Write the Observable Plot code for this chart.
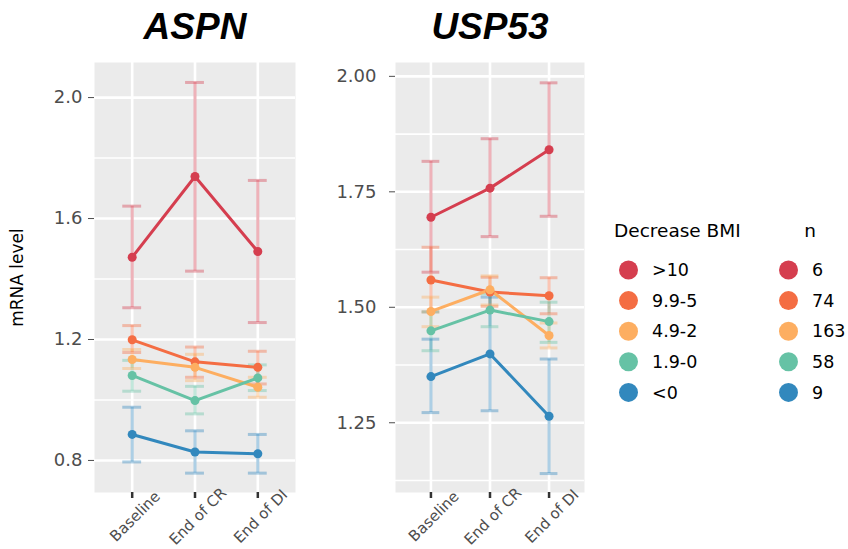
<!DOCTYPE html>
<html>
<head>
<meta charset="utf-8">
<script src="https://cdn.jsdelivr.net/npm/d3@7"></script>
<script src="https://cdn.jsdelivr.net/npm/@observablehq/plot@0.6"></script>
<style>
  html, body { margin: 0; padding: 0; background: white; }
  #wrap { position: relative; width: 848px; height: 549px; overflow: hidden; font-family: "DejaVu Sans", sans-serif; }
  #wrap > div, #wrap > svg { position: absolute; top: 0; }
</style>
</head>
<body>
<div id="wrap"></div>
<script>
// ---------- data ----------
const cats = ["Baseline", "End of CR", "End of DI"];
const groups = [">10", "9.9-5", "4.9-2", "1.9-0", "<0"];
const nCounts = ["6", "74", "163", "58", "9"];
const colors = ["#d53e4f", "#f46d43", "#fdae61", "#66c2a5", "#3288bd"];

// ASPN: mean, lower, upper per group (Baseline, End of CR, End of DI)
const aspnMean = [[1.472, 1.739, 1.491], [1.199, 1.126, 1.108], [1.134, 1.108, 1.042], [1.081, 0.998, 1.073], [0.886, 0.828, 0.822]];
const aspnLo   = [[1.305, 1.426, 1.256], [1.157, 1.075, 1.053], [1.104, 1.064, 1.009], [1.029, 0.954, 1.031], [0.795, 0.758, 0.758]];
const aspnHi   = [[1.641, 2.050, 1.726], [1.246, 1.175, 1.161], [1.167, 1.151, 1.075], [1.131, 1.045, 1.116], [0.976, 0.898, 0.886]];
const aspnTicks = [0.8, 1.2, 1.6, 2.0];
const aspnMinor = [1.0, 1.4, 1.8];

// USP53
const uspMean = [[1.695, 1.758, 1.841], [1.559, 1.533, 1.525], [1.491, 1.538, 1.439], [1.449, 1.494, 1.469], [1.350, 1.399, 1.264]];
const uspLo   = [[1.576, 1.653, 1.697], [1.490, 1.502, 1.486], [1.458, 1.505, 1.412], [1.406, 1.458, 1.424], [1.272, 1.276, 1.140]];
const uspHi   = [[1.816, 1.865, 1.986], [1.630, 1.565, 1.564], [1.522, 1.568, 1.466], [1.490, 1.529, 1.511], [1.431, 1.522, 1.388]];
const uspTicks = [1.25, 1.50, 1.75, 2.00];
const uspMinor = [1.125, 1.375, 1.625, 1.875];

function rowsOf(mean, lo, hi) {
  const rows = [];
  groups.forEach((g, gi) => cats.forEach((c, ci) => rows.push({g, ci, mean: mean[gi][ci], lo: lo[gi][ci], hi: hi[gi][ci]})));
  return rows;
}

function panel({rows, yDomain, yTicks, yMinor, fmt, title, width, ml, mr, ylabel, labelGap}) {
  const marks = [
    Plot.frame({fill: "#EBEBEB", stroke: null}),
    Plot.ruleY(yMinor, {stroke: "white", strokeWidth: 1.6}),
    Plot.ruleY(yTicks, {stroke: "white", strokeWidth: 2.6}),
    Plot.ruleX([0, 1, 2], {stroke: "white", strokeWidth: 2.6}),
    Plot.ruleX(rows, {x: "ci", y1: "lo", y2: "hi", stroke: "g", strokeOpacity: 0.4, strokeWidth: 3}),
    Plot.ruleY(rows, {y: "lo", x1: d => d.ci - 0.15, x2: d => d.ci + 0.15, stroke: "g", strokeOpacity: 0.4, strokeWidth: 3}),
    Plot.ruleY(rows, {y: "hi", x1: d => d.ci - 0.15, x2: d => d.ci + 0.15, stroke: "g", strokeOpacity: 0.4, strokeWidth: 3}),
    Plot.line(rows, {x: "ci", y: "mean", z: "g", stroke: "g", strokeWidth: 3}),
    Plot.dot(rows, {x: "ci", y: "mean", fill: "g", r: 4.5}),
    Plot.axisY({ticks: yTicks, tickSize: 6, tickFormat: () => "", color: "#4d4d4d", label: null}),
    Plot.text(yTicks, {y: d => d, text: d => fmt(d), frameAnchor: "left", dx: -labelGap, textAnchor: "end", lineAnchor: "middle", fontSize: 18, fill: "#4d4d4d"}),
    Plot.axisX({ticks: [0, 1, 2], tickSize: 6, tickFormat: () => "", strokeWidth: 2.5, color: "#333", label: null}),
    Plot.text(cats, {x: (d, i) => i, text: d => d, frameAnchor: "bottom", rotate: -45, dx: 3, dy: 24, fontSize: 15, fill: "#4d4d4d", textAnchor: "middle", lineAnchor: "middle"}),
    Plot.text([title], {text: d => d, frameAnchor: "top", dy: -35, fontSize: 37, fontWeight: "bold", fontStyle: "italic", fontFamily: "Liberation Sans", fill: "black", textAnchor: "middle", lineAnchor: "middle"})
  ];
  if (ylabel) marks.push(Plot.text([ylabel], {text: d => d, frameAnchor: "left", dx: -77, rotate: -90, fontSize: 17, fill: "black", textAnchor: "middle", lineAnchor: "middle"}));
  return Plot.plot({
    width, height: 549,
    marginLeft: ml, marginRight: mr, marginTop: 62, marginBottom: 57,
    x: {domain: [-0.6, 2.6], axis: null},
    y: {domain: yDomain, axis: null},
    color: {domain: groups, range: colors},
    style: {fontFamily: "DejaVu Sans", background: "transparent", overflow: "visible"},
    marks
  });
}

const wrap = document.getElementById("wrap");

const p1 = panel({rows: rowsOf(aspnMean, aspnLo, aspnHi), yDomain: [0.694, 2.116], yTicks: aspnTicks, yMinor: aspnMinor,
  fmt: d3.format(".1f"), title: "ASPN", width: 310, ml: 94, mr: 15, ylabel: "mRNA level", labelGap: 12});
p1.style.position = "absolute"; p1.style.left = "0px"; p1.style.top = "0px";
wrap.appendChild(p1);

const p2 = panel({rows: rowsOf(uspMean, uspLo, uspHi), yDomain: [1.099, 2.030], yTicks: uspTicks, yMinor: uspMinor,
  fmt: d3.format(".2f"), title: "USP53", width: 300, ml: 95, mr: 16, labelGap: 19});
p2.style.position = "absolute"; p2.style.left = "300px"; p2.style.top = "0px";
wrap.appendChild(p2);

// ---------- legend ----------
const svg = d3.select(wrap).append("svg").attr("width", 848).attr("height", 549)
  .style("left", "0px").style("font-family", "DejaVu Sans");
svg.append("text").attr("x", 614).attr("y", 231).attr("dy", "0.35em").attr("font-size", 18.5).text("Decrease BMI");
svg.append("text").attr("x", 810).attr("y", 231).attr("dy", "0.35em").attr("text-anchor", "middle").attr("font-size", 18.5).text("n");
groups.forEach((g, i) => {
  const y = 270 + i * 30.6;
  svg.append("circle").attr("cx", 628.5).attr("cy", y).attr("r", 9.5).attr("fill", colors[i]);
  svg.append("text").attr("x", 652).attr("y", y).attr("dy", "0.35em").attr("font-size", 17.5).text(g);
  svg.append("circle").attr("cx", 788.5).attr("cy", y).attr("r", 9.5).attr("fill", colors[i]);
  svg.append("text").attr("x", 812).attr("y", y).attr("dy", "0.35em").attr("font-size", 17.5).text(nCounts[i]);
});
</script>
</body>
</html>
